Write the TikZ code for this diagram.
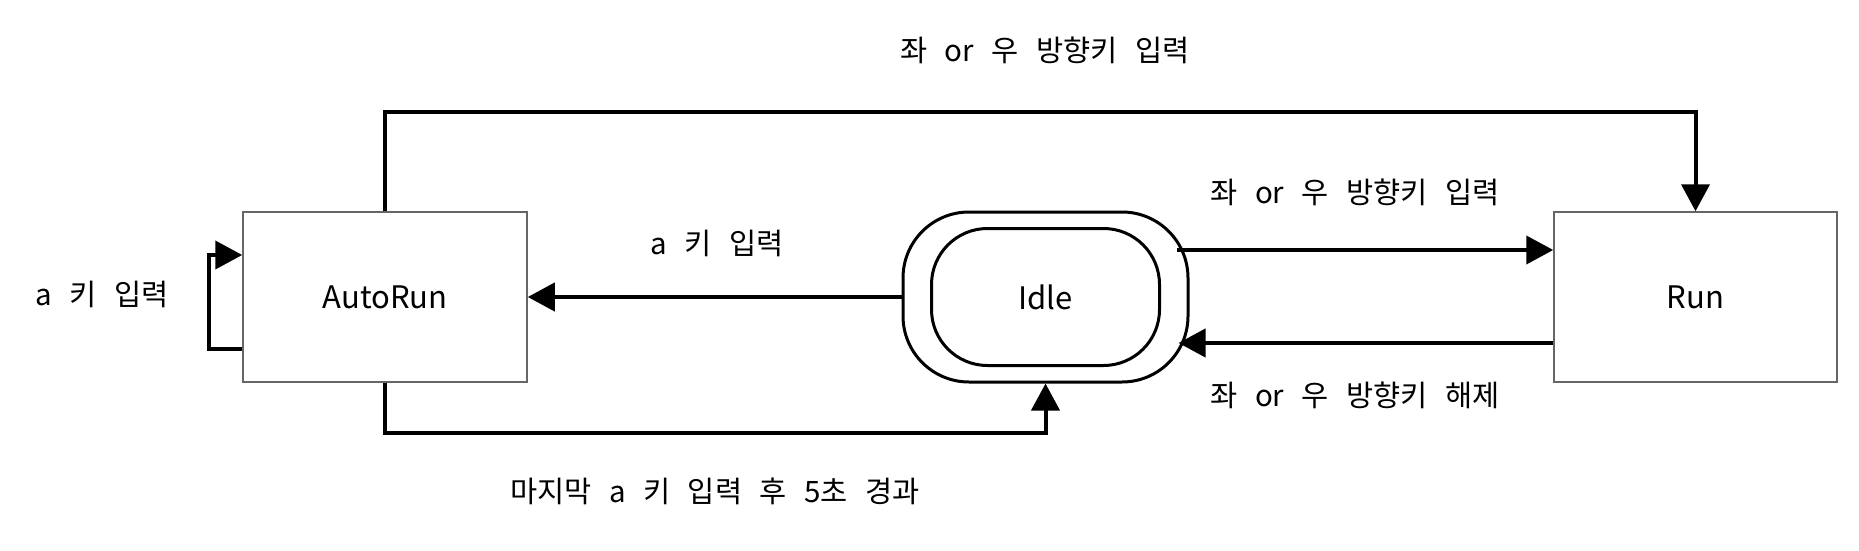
\documentclass[tikz,border=0pt]{standalone}
\usepackage{fontspec}
\setmainfont{Noto Sans CJK KR}
\usetikzlibrary{arrows.meta,calc}
\newcommand{\widespacing}{\spaceskip=17.5pt\relax}
\tikzset{
  box/.style={draw=black!60, line width=1.5pt, minimum width=284pt, minimum height=170pt, inner sep=0pt},
  conn/.style={line width=4pt, -{Triangle[length=27pt,width=28pt]}},
  lbl/.style={inner sep=0pt, font=\fontsize{29.5}{34}\selectfont\widespacing},
  statetext/.style={inner sep=0pt, font=\fontsize{31}{36}\selectfont},
}
\begin{document}
\begin{tikzpicture}[x=1pt,y=1pt]
\useasboundingbox[fill=white] (0,0) rectangle (1859,550);
\node[box, statetext] (auto) at (385,253) {AutoRun};
\node[box, statetext, minimum width=283pt] (run) at (1695.5,253) {Run};
\node[draw, line width=3pt, minimum width=285pt, minimum height=170pt, rounded corners=66pt] (idle) at (1045.5,253) {};
\node[draw, line width=3pt, minimum width=228pt, minimum height=137pt, rounded corners=56pt, statetext] (idlein) at (1045.5,253) {Idle};
\coordinate (i1) at ([shift={(131.5,47)}]idle.center);
\coordinate (i2) at ([shift={(133,-46)}]idle.center);
% connectors
\draw[conn] (auto.north) -- ++(0,99) -| (run.north);
\draw[conn] (auto.south) -- ++(0,-50) -| (idle.south);
\draw[conn] ([yshift=-52]auto.west) -- ++(-33,0) |- ([yshift=42]auto.west);
\draw[conn] (idle.west) -- (auto.east);
\draw[conn] (i1) -- (run.west |- i1);
\draw[conn] (run.west |- i2) -- (i2);
% labels
\node[lbl] (l1) at (1045,500) {좌 or 우 방향키 입력};
\node[lbl] (l2) at (102,256) {a 키 입력};
\node[lbl] (l3) at (717,307) {a 키 입력};
\node[lbl] (l4) at (1355,358) {좌 or 우 방향키 입력};
\node[lbl] (l5) at (1355,155) {좌 or 우 방향키 해제};
\node[lbl] (l6) at (715,59) {마지막 a 키 입력 후 5초 경과};
\end{tikzpicture}
\end{document}
